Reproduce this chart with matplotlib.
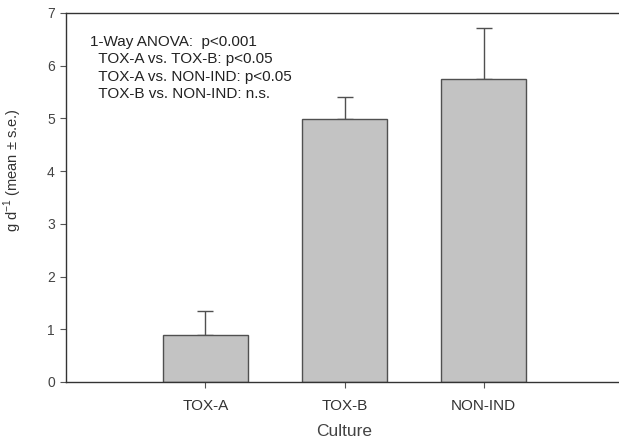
import matplotlib
matplotlib.use("Agg")
import matplotlib.pyplot as plt

plt.rcParams['font.family'] = ['Liberation Sans', 'DejaVu Sans']

categories = ["TOX-A", "TOX-B", "NON-IND"]
means = [0.89, 4.98, 5.75]
errors = [0.45, 0.42, 0.97]
yticks = [0, 1, 2, 3, 4, 5, 6, 7]

fig = plt.figure(figsize=(6.19, 4.43), dpi=100)
ax = fig.add_axes([0.1066, 0.1377, 0.9, 0.833])

pos = [1, 2, 3]
ax.bar(pos, means, width=0.61, color="#c3c3c3", edgecolor="#505050", linewidth=1.0, zorder=2)
ax.errorbar(pos, means, yerr=[[0]*3, errors], fmt="none", ecolor="#505050",
            elinewidth=1.0, capsize=6, capthick=1.0, zorder=1)

ax.set_xlim(0, 4)
ax.set_ylim(0, 7)
ax.set_xticks(pos)
ax.set_xticklabels(categories, fontsize=11, color="#333333")
ax.set_yticks(yticks)
ax.set_yticklabels([str(t) for t in yticks], fontsize=10, color="#444444")
ax.tick_params(direction="out", length=4, width=0.8, color="#555555")
ax.tick_params(axis="x", pad=8)
ax.tick_params(axis="y", pad=4)

for s in ["left", "top", "bottom"]:
    ax.spines[s].set_color("#333333")
    ax.spines[s].set_linewidth(1.0)
ax.spines["right"].set_visible(False)

ax.set_xlabel("Culture", fontsize=12.5, color="#444444", labelpad=8)
ax.set_ylabel("g d$^{\\mathregular{-1}}$ (mean \u00b1 s.e.)", fontsize=10.5, color="#333333")
ax.yaxis.set_label_coords(-0.075, 0.575)

lines = ["1-Way ANOVA:  p<0.001",
         "  TOX-A vs. TOX-B: p<0.05",
         "  TOX-A vs. NON-IND: p<0.05",
         "  TOX-B vs. NON-IND: n.s."]
ax.text(0.043, 0.94, "\n".join(lines), transform=ax.transAxes, fontsize=11,
        va="top", ha="left", linespacing=1.3, color="#222222")

fig.savefig("out.png", dpi=100)
